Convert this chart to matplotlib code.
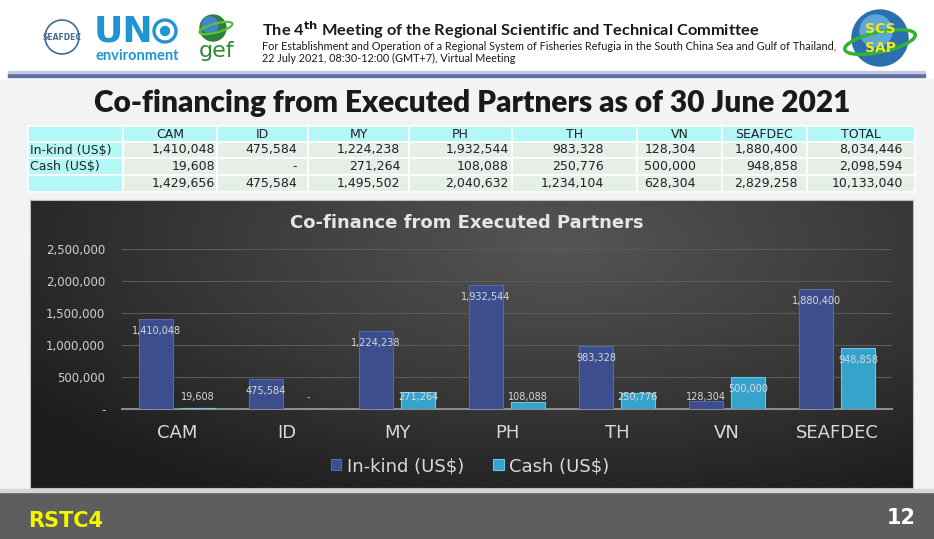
import numpy as np
import matplotlib.pyplot as plt
from matplotlib.patches import Rectangle, Circle, Ellipse
from matplotlib.colors import LinearSegmentedColormap

# --- data ---
categories = ['CAM', 'ID', 'MY', 'PH', 'TH', 'VN', 'SEAFDEC']
in_kind = [1410048, 475584, 1224238, 1932544, 983328, 128304, 1880400]
cash = [19608, 0, 271264, 108088, 250776, 500000, 948858]
series_names = ['In-kind (US$)', 'Cash (US$)']
table_cols = categories + ['TOTAL']
y_ticks = [0, 500000, 1000000, 1500000, 2000000, 2500000]


def fmt(v):
    return f"{v:,}" if v else "-"


W, H = 934, 539
fig = plt.figure(figsize=(W / 100, H / 100), dpi=100)
fig.patch.set_facecolor('#f3f3f3')

# full-figure overlay in pixel coordinates (y downwards)
bg = fig.add_axes([0, 0, 1, 1], zorder=0)
bg.set_xlim(0, W)
bg.set_ylim(H, 0)
bg.axis('off')

# --- header ---
bg.add_patch(Rectangle((0, 0), W, 78, color='white', zorder=1))
bg.add_patch(Rectangle((8, 73), 917, 4, color='#5f70a3', zorder=2))
bg.add_patch(Rectangle((8, 71), 917, 2, color='#c5cce0', zorder=2))

# logos (rough)
bg.add_patch(Circle((62, 37), 17, fill=False, ec='#3f6d93', lw=1.2, zorder=3))
bg.text(62, 38, 'SEAFDEC', ha='center', va='center', fontsize=5.5, color='#3f6d93',
        fontweight='bold', zorder=4)
bg.text(94, 31, 'UN', ha='left', va='center', fontsize=26, fontweight='bold',
        color='#1f95d3', family='DejaVu Sans', zorder=4)
bg.add_patch(Circle((165, 31), 11, fill=False, ec='#1f95d3', lw=2.4, zorder=3))
bg.add_patch(Circle((165, 31), 4.5, color='#1f95d3', zorder=3))
bg.text(95, 56, 'environment', ha='left', va='center', fontsize=10.5, fontweight='bold',
        color='#1f95d3', family='Lato', zorder=4)
bg.add_patch(Circle((213, 28), 13, color='#2f7f3c', zorder=3))
bg.add_patch(Circle((210, 25), 8, color='#3f87c8', zorder=3))
bg.add_patch(Ellipse((216, 28), 34, 9, angle=-15, fill=False, ec='#5cbf3a', lw=1.6, zorder=4))
bg.text(217, 51, 'gef', ha='center', va='center', fontsize=16, color='#2f8a33',
        family='DejaVu Sans', zorder=4)

bg.add_patch(Circle((880, 38), 28, color='#2a6fb0', zorder=3))
bg.add_patch(Circle((876, 31), 16, color='#5fa6d8', zorder=3))
bg.add_patch(Ellipse((880, 42), 72, 20, angle=-12, fill=False, ec='#34b233', lw=2.5, zorder=4))
bg.text(880, 29, 'SCS', ha='center', va='center', fontsize=10, fontweight='bold',
        color='#f2e81c', zorder=5)
bg.text(880, 48, 'SAP', ha='center', va='center', fontsize=10, fontweight='bold',
        color='#f2e81c', zorder=5)

bg.text(262, 30, r'The 4$^{\mathbf{th}}$ Meeting of the Regional Scientific and Technical Committee',
        ha='left', va='center', fontsize=11.8, fontweight='bold', family='Lato',
        color='#1a1a1a', zorder=4)
bg.text(262, 46, 'For Establishment and Operation of a Regional System of Fisheries Refugia '
        'in the South China Sea and Gulf of Thailand,',
        ha='left', va='center', fontsize=7.8, family='Lato', color='#1a1a1a', zorder=4)
bg.text(262, 58, '22 July 2021, 08:30-12:00 (GMT+7), Virtual Meeting',
        ha='left', va='center', fontsize=7.8, family='Lato', color='#1a1a1a', zorder=4)

# --- slide title ---
bg.text(472, 103, 'Co-financing from Executed Partners as of 30 June 2021',
        ha='center', va='center', fontsize=21.5, fontweight='heavy', family='Lato',
        color='#1a1a1a', zorder=4)

# --- table ---
col_edges = [28, 123, 217, 308, 409, 512, 637, 722, 807, 915]
row_edges = [126, 142, 158, 175, 192]
val_right = [215, 297, 400, 509, 604, 696, 798, 903]
cyan, cell = '#b3f7f7', '#e6eee8'

totals_ik = in_kind + [sum(in_kind)]
totals_cash = cash + [sum(cash)]
totals_all = [a + b for a, b in zip(totals_ik, totals_cash)]
row_labels = series_names + ['']
rows = [totals_ik, totals_cash, totals_all]

for r in range(4):
    y0, y1 = row_edges[r], row_edges[r + 1]
    for c in range(9):
        x0, x1 = col_edges[c], col_edges[c + 1]
        fc = cyan if (r == 0 or c == 0) else cell
        bg.add_patch(Rectangle((x0, y0), x1 - x0, y1 - y0, fc=fc, ec='white',
                               lw=1.2, zorder=2))
ymid = [(row_edges[i] + row_edges[i + 1]) / 2 for i in range(4)]
for c, name in enumerate(table_cols):
    bg.text((col_edges[c + 1] + col_edges[c + 2]) / 2, ymid[0], name, ha='center',
            va='center', fontsize=9, color='#222222', zorder=4)
for r, (lab, vals) in enumerate(zip(row_labels, rows)):
    bg.text(30, ymid[r + 1], lab, ha='left', va='center', fontsize=9,
            color='#222222', zorder=4)
    for c, v in enumerate(vals):
        bg.text(val_right[c], ymid[r + 1], fmt(v), ha='right', va='center',
                fontsize=9, color='#222222', zorder=4)

# --- dark chart panel ---
yy, xx = np.mgrid[0:1:150j, 0:1:300j]
d = np.sqrt(((xx - 0.6) / 0.75) ** 2 + ((yy - 0.15) / 1.0) ** 2)
grad = np.clip(1 - d, 0, 1)
cmap = LinearSegmentedColormap.from_list('panel', ['#1c1c1c', '#3a3a3a', '#555555'])
bg.imshow(grad, cmap=cmap, extent=(30, 913, 488, 200), aspect='auto',
          interpolation='bilinear', zorder=1)
bg.add_patch(Rectangle((30, 200), 883, 288, fill=False, ec='#bdbdbd', lw=0.8, zorder=2))
bg.set_xlim(0, W)
bg.set_ylim(H, 0)

bg.text(467, 223, 'Co-finance from Executed Partners', ha='center', va='center',
        fontsize=13, fontweight='bold', color='#e6e6e6', zorder=4)

# --- footer ---
bg.add_patch(Rectangle((0, 492), W, 47, color='#5e5e5e', zorder=1))
bg.add_patch(Rectangle((0, 489), W, 3, color='#d6d6d6', zorder=1))
bg.text(28, 521, 'RSTC4', ha='left', va='center', fontsize=15, fontweight='bold',
        color='#f5f500', family=['Liberation Sans Narrow', 'DejaVu Sans'], zorder=4)
bg.text(916, 518, '12', ha='right', va='center', fontsize=15, fontweight='bold',
        color='white', family=['Liberation Sans Narrow', 'DejaVu Sans'], zorder=4)

# --- bar chart ---
ax = fig.add_axes([122 / W, 1 - 409 / H, 770 / W, 160 / H], zorder=2)
ax.set_facecolor('none')
x = np.arange(len(categories))
off, bw = 0.19, 0.31
b1 = ax.bar(x - off, in_kind, bw, color='#3c4e8d', edgecolor='#5668a6', lw=0.8,
            label=series_names[0], zorder=3)
b2 = ax.bar(x + off, cash, bw, color='#36a3cc', edgecolor='#6cc7e6', lw=0.8,
            label=series_names[1], zorder=3)

for xs, vals in [(x - off, in_kind), (x + off, cash)]:
    for xi, v in zip(xs, vals):
        ax.text(xi, max(v - 190000, 190000), fmt(v), ha='center', va='center',
                fontsize=7, color='#d8d8d8', zorder=4)

ax.set_xlim(-0.5, len(categories) - 0.5)
ax.set_ylim(0, 2500000)
ax.set_yticks(y_ticks)
ax.set_yticklabels([fmt(v) for v in y_ticks])
ax.set_xticks(x)
ax.set_xticklabels(categories)
ax.grid(axis='y', color='#5a5a5a', lw=0.8, zorder=0)
for s in ['top', 'right', 'left']:
    ax.spines[s].set_visible(False)
ax.spines['bottom'].set_color('#8c8c8c')
ax.spines['bottom'].set_linewidth(1.5)
ax.tick_params(axis='y', length=0, pad=12, labelsize=8.5, labelcolor='#cfcfcf')
ax.tick_params(axis='x', length=0, pad=11, labelsize=13, labelcolor='#d9d9d9')

fig.legend(handles=[b1, b2], loc='center', bbox_to_anchor=(470 / W, 1 - 466 / H),
           ncol=2, frameon=False, fontsize=13, labelcolor='#d9d9d9',
           handlelength=0.6, handleheight=0.6, handletextpad=0.3, columnspacing=1.6)

fig.savefig('out.png', dpi=100, facecolor=fig.get_facecolor())
